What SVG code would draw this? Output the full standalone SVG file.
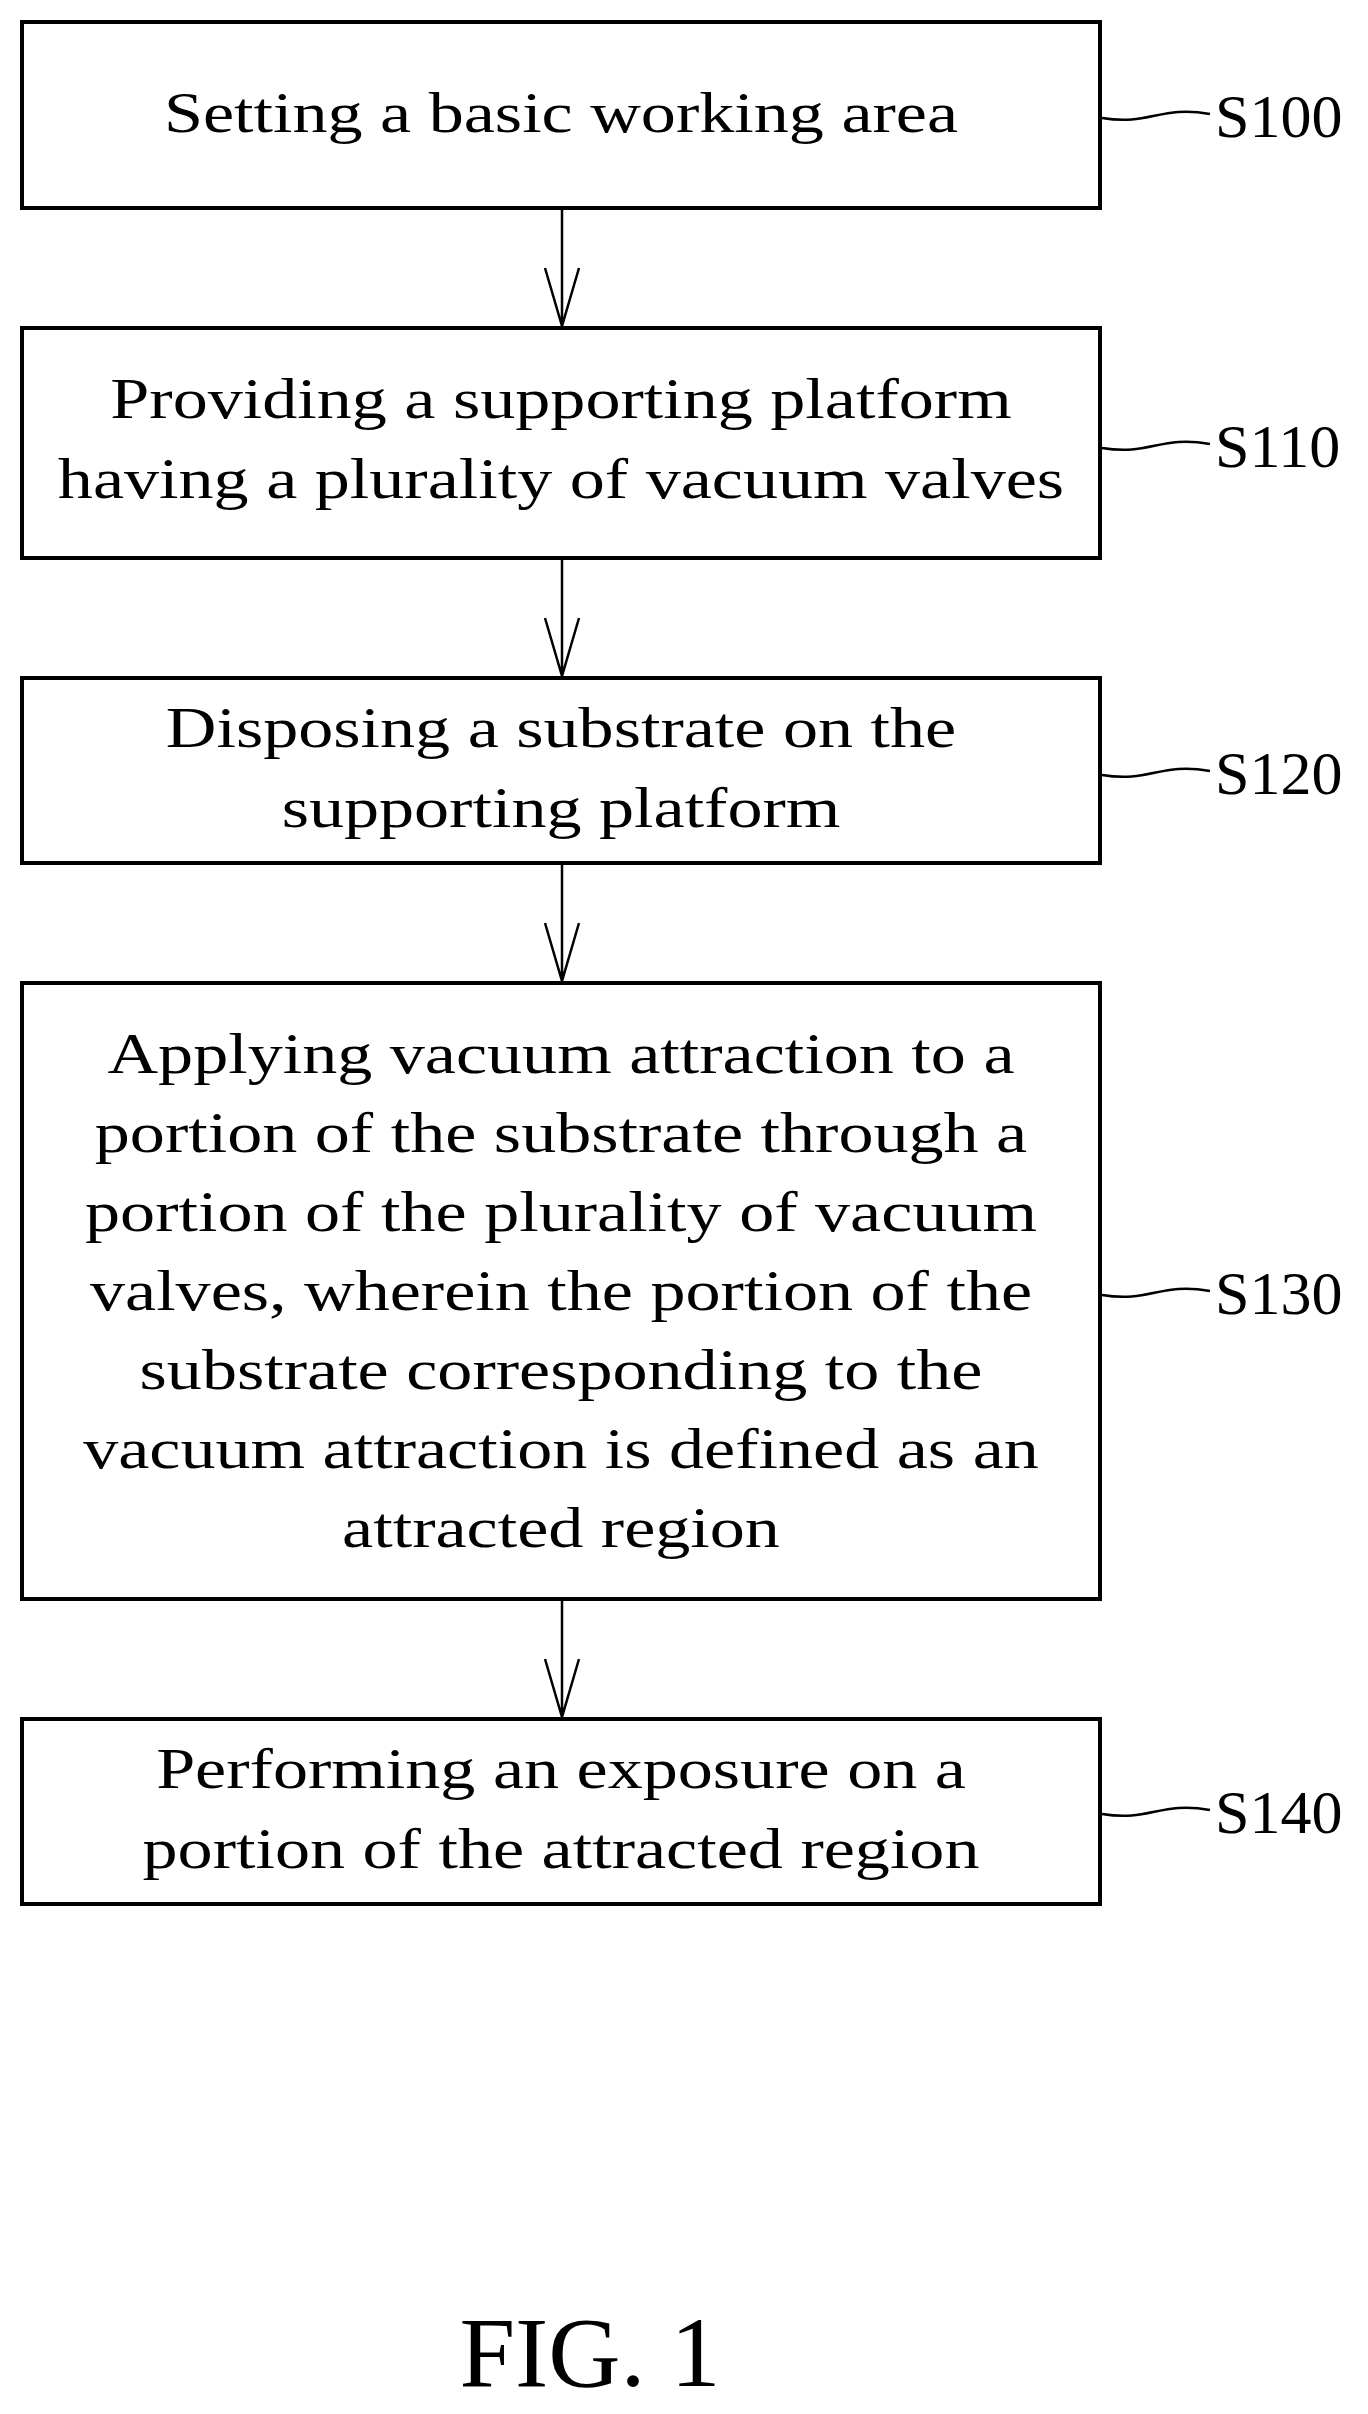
<svg xmlns="http://www.w3.org/2000/svg" width="1368" height="2414" viewBox="0 0 1368 2414">
<style>
.box{fill:#fff;stroke:#000;stroke-width:4}
.t{font-family:"Liberation Serif",serif;font-size:57px;text-anchor:middle;fill:#000}
.lb{font-family:"Liberation Serif",serif;font-size:62px;fill:#000}
.c{fill:none;stroke:#000;stroke-width:2.5}
</style>
<rect width="1368" height="2414" fill="#fff"/>
<g id="connectors">
<path class="c" d="M562 208V328M545 268L562 326L579 268"/>
<path class="c" d="M562 558V678M545 618L562 676L579 618"/>
<path class="c" d="M562 863V983M545 923L562 981L579 923"/>
<path class="c" d="M562 1599V1719M545 1659L562 1717L579 1659"/>
<path class="c" d="M1102 118C1150 126 1160 105 1210 114"/>
<path class="c" d="M1102 448C1150 456 1160 435 1210 444"/>
<path class="c" d="M1102 775C1150 783 1160 762 1210 771"/>
<path class="c" d="M1102 1295C1150 1303 1160 1282 1210 1291"/>
<path class="c" d="M1102 1814C1150 1822 1160 1801 1210 1810"/>
</g>
<g id="S100"><rect class="box" x="22" y="22" width="1078" height="186"/><text class="t" transform="matrix(1.23 0 0 1 561 0)" x="0" y="132">Setting a basic working area</text><text class="lb" x="1215" y="137">S100</text></g>
<g id="S110"><rect class="box" x="22" y="328" width="1078" height="230"/><text class="t" transform="matrix(1.23 0 0 1 561 0)" x="0" y="418">Providing a supporting platform</text><text class="t" transform="matrix(1.23 0 0 1 561 0)" x="0" y="498">having a plurality of vacuum valves</text><text class="lb" x="1215" y="467">S110</text></g>
<g id="S120"><rect class="box" x="22" y="678" width="1078" height="185"/><text class="t" transform="matrix(1.23 0 0 1 561 0)" x="0" y="747">Disposing a substrate on the</text><text class="t" transform="matrix(1.23 0 0 1 561 0)" x="0" y="827">supporting platform</text><text class="lb" x="1215" y="794">S120</text></g>
<g id="S130"><rect class="box" x="22" y="983" width="1078" height="616"/>
<text class="t" transform="matrix(1.23 0 0 1 561 0)" x="0" y="1073">Applying vacuum attraction to a</text>
<text class="t" transform="matrix(1.23 0 0 1 561 0)" x="0" y="1152">portion of the substrate through a</text>
<text class="t" transform="matrix(1.23 0 0 1 561 0)" x="0" y="1231">portion of the plurality of vacuum</text>
<text class="t" transform="matrix(1.23 0 0 1 561 0)" x="0" y="1310">valves, wherein the portion of the</text>
<text class="t" transform="matrix(1.23 0 0 1 561 0)" x="0" y="1389">substrate corresponding to the</text>
<text class="t" transform="matrix(1.23 0 0 1 561 0)" x="0" y="1468">vacuum attraction is defined as an</text>
<text class="t" transform="matrix(1.23 0 0 1 561 0)" x="0" y="1547">attracted region</text>
<text class="lb" x="1215" y="1314">S130</text></g>
<g id="S140"><rect class="box" x="22" y="1719" width="1078" height="185"/><text class="t" transform="matrix(1.23 0 0 1 561 0)" x="0" y="1788">Performing an exposure on a</text><text class="t" transform="matrix(1.23 0 0 1 561 0)" x="0" y="1868">portion of the attracted region</text><text class="lb" x="1215" y="1833">S140</text></g>
<text x="590" y="2386" style="font-family:'Liberation Serif',serif;font-size:100px;text-anchor:middle">FIG. 1</text>
</svg>
